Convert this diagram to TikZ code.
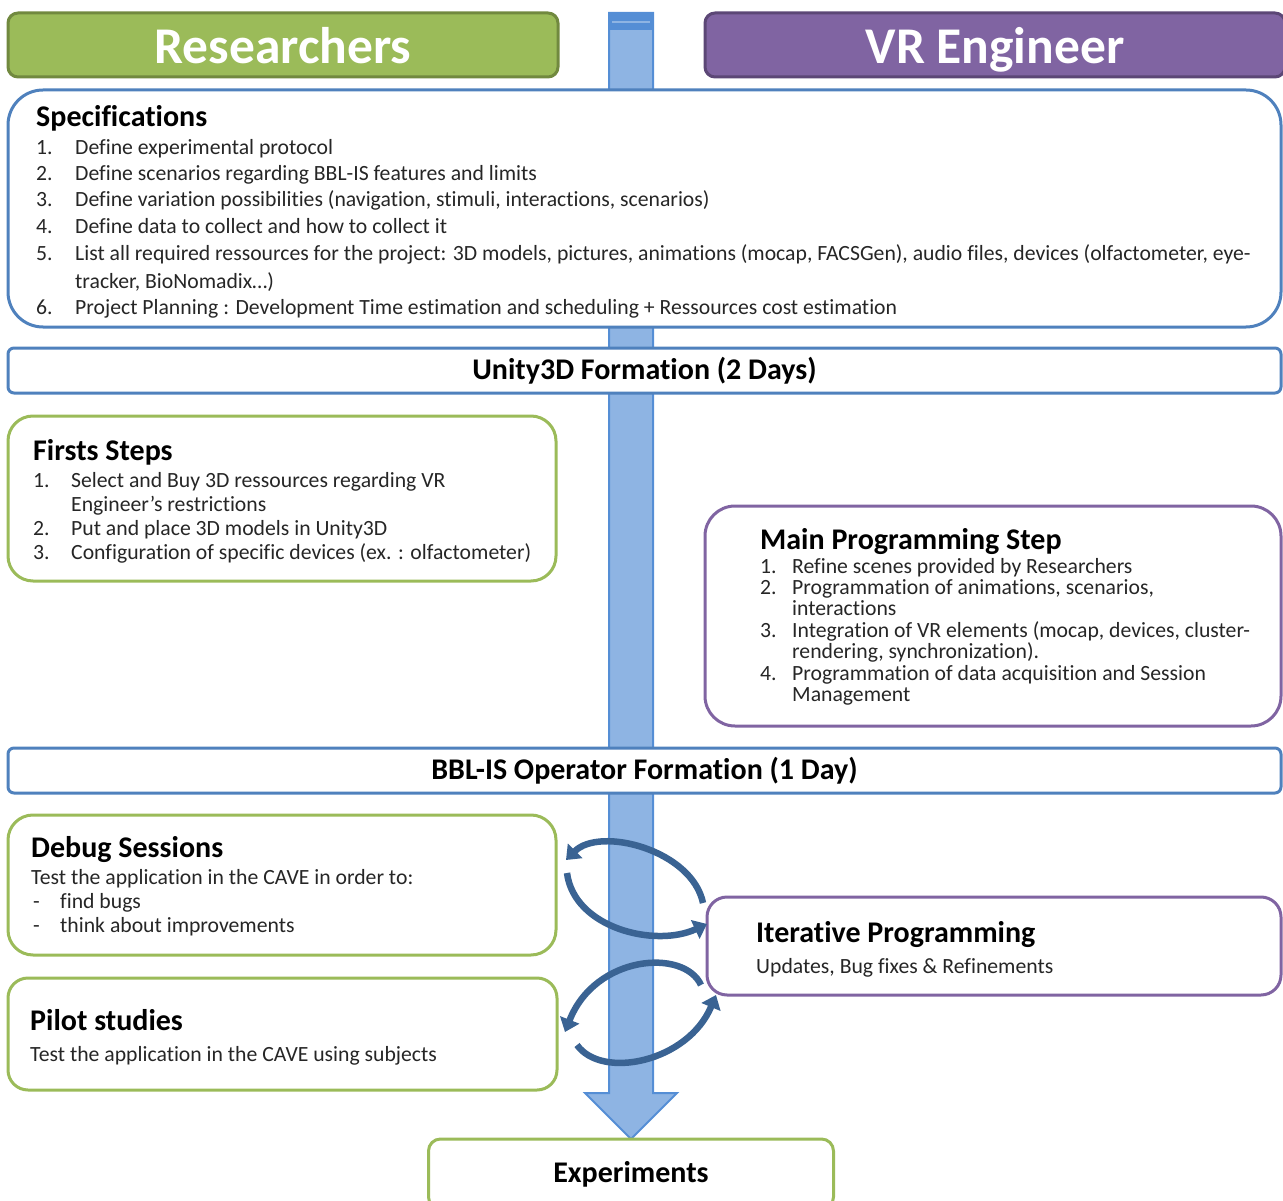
\documentclass[tikz,border=0pt]{standalone}
\usepackage{fontspec}
\setmainfont{Carlito}[Ligatures=NoCommon]
\usetikzlibrary{arrows.meta}
\definecolor{resgreen}{HTML}{9BBB59}
\definecolor{resdark}{HTML}{71893F}
\definecolor{vrpurple}{HTML}{8064A2}
\definecolor{vrdark}{HTML}{5C4776}
\definecolor{specblue}{HTML}{4F81BD}
\definecolor{flowfill}{HTML}{8EB4E3}
\definecolor{flowline}{HTML}{558ED5}
\definecolor{loopblue}{HTML}{3A6393}
\definecolor{txtgray}{HTML}{262626}
\tikzset{
  header/.style={draw, line width=3pt, rounded corners=10pt, anchor=north west, inner sep=0pt, outer sep=0pt,
    text=white, font=\fontsize{51.5}{51.5}\selectfont\bfseries, text depth=0pt},
  bluebox/.style={draw=specblue, fill=white, line width=3pt, anchor=north west, inner sep=0pt, outer sep=0pt},
  greenbox/.style={bluebox, draw=resgreen},
  purplebox/.style={bluebox, draw=vrpurple},
  barbox/.style={bluebox, rounded corners=6pt, minimum width=1273pt, minimum height=45pt,
    font=\fontsize{30}{30}\selectfont\bfseries},
  boxtitle/.style={anchor=base west, inner sep=0pt, font=\fontsize{30}{30}\selectfont\bfseries},
  boxtext/.style={anchor=base west, inner sep=0pt, text=txtgray, font=\fontsize{21.7}{21.7}\selectfont},
  looparrow/.style={draw=loopblue, line width=6.5pt, -{Triangle[width=20pt,length=13pt]}}
}

\begin{document}
\begin{tikzpicture}[x=1pt,y=-1pt]
\useasboundingbox (0,0) rectangle (1283,1201);

% big flow arrow behind the boxes
\coordinate (tip) at (631,1139);
\draw[draw=flowline, fill=flowfill, line width=2pt, line join=miter]
  (609,13) -- (653,13) -- (653,1093) -- (677,1093) -- (tip) -- (585,1093) -- (609,1093) -- cycle;
\fill[flowline] (609,13) rectangle (653,30);
\draw[flowfill, line width=1.5pt] (612,22) -- (650,22);

% headers
\node[header, draw=resdark, fill=resgreen, minimum width=550pt, minimum height=64pt] (res) at (8,13) {Researchers};
\node[header, draw=vrdark, fill=vrpurple, minimum width=580pt, minimum height=64pt] (vr) at (705,13) {VR Engineer};

% specifications
\node[bluebox, rounded corners=35pt, minimum width=1273pt, minimum height=237pt] (spec) at (8,90) {};
\node[boxtitle] (spect) at (36,127) {Specifications};
\foreach \yy/\lbl/\txt [count=\i] in {
  155/1./{Define experimental protocol},
  181/2./{Define scenarios regarding BBL-IS features and limits},
  207/3./{Define variation possibilities (navigation, stimuli, interactions, scenarios)},
  234/4./{Define data to collect and how to collect it},
  261/5./{List all required ressources for the project: 3D models, pictures, animations (mocap, FACSGen), audio files, devices (olfactometer, eye-},
  288/{}/{tracker, BioNomadix…)},
  314/6./{Project Planning : Development Time estimation and scheduling + Ressources cost estimation}}
{
  \node[boxtext] (spn\i) at (36,\yy) {\lbl};
  \node[boxtext] (sp\i) at (75,\yy) {\txt};
}

\node[barbox] (unity) at (8,348) {Unity3D Formation (2 Days)};

% firsts steps
\node[greenbox, rounded corners=25pt, minimum width=548pt, minimum height=165pt] (first) at (8,416) {};
\node[boxtitle] (firstt) at (33,460) {Firsts Steps};
\foreach \yy/\lbl/\txt [count=\i] in {
  487/1./{Select and Buy 3D ressources regarding VR},
  511/{}/{Engineer’s restrictions},
  535/2./{Put and place 3D models in Unity3D},
  559/3./{Configuration of specific devices (ex. : olfactometer)}}
{
  \node[boxtext] (fsn\i) at (33,\yy) {\lbl};
  \node[boxtext] (fs\i) at (71,\yy) {\txt};
}

% main programming step
\node[purplebox, rounded corners=30pt, minimum width=576pt, minimum height=220pt] (main) at (705,506) {};
\node[boxtitle] (maint) at (760,549) {Main Programming Step};
\foreach \yy/\lbl/\txt [count=\i] in {
  573/1./{Refine scenes provided by Researchers},
  594/2./{Programmation of animations, scenarios,},
  615/{}/{interactions},
  637/3./{Integration of VR elements (mocap, devices, cluster-},
  658/{}/{rendering, synchronization).},
  680/4./{Programmation of data acquisition and Session},
  701/{}/{Management}}
{
  \node[boxtext] (mpn\i) at (760,\yy) {\lbl};
  \node[boxtext] (mp\i) at (792,\yy) {\txt};
}

\node[barbox] (oper) at (8,748) {BBL-IS Operator Formation (1 Day)};

% debug sessions
\node[greenbox, rounded corners=25pt, minimum width=548pt, minimum height=140pt] (debug) at (8,815) {};
\node[boxtitle] (debugt) at (31,857) {Debug Sessions};
\node[boxtext] (debug1) at (31,884) {Test the application in the CAVE in order to:};
\node[boxtext] (dbd1) at (33,908) {-};
\node[boxtext] (debug2) at (60,908) {find bugs};
\node[boxtext] (dbd2) at (33,932) {-};
\node[boxtext] (debug3) at (60,932) {think about improvements};

% iterative programming
\node[purplebox, rounded corners=20pt, minimum width=574pt, minimum height=98pt] (iter) at (707,897) {};
\node[boxtitle] (itert) at (756,942) {Iterative Programming};
\node[boxtext] (iter1) at (756,973) {Updates, Bug fixes \& Refinements};

% pilot studies
\node[greenbox, rounded corners=20pt, minimum width=549pt, minimum height=112pt] (pilot) at (8,978) {};
\node[boxtitle] (pilott) at (30,1030) {Pilot studies};
\node[boxtext] (pilot1) at (30,1061) {Test the application in the CAVE using subjects};

% experiments
\node[greenbox, anchor=north, rounded corners=12pt, minimum width=405pt, minimum height=70pt,
  font=\fontsize{30}{30}\selectfont\bfseries] (exp) at (tip) {Experiments};

% loops between debug/pilot and iterative programming
\coordinate (up1) at (703,903);
\coordinate (up2) at (566,860);
\coordinate (up3) at (567,873);
\coordinate (up4) at (707,924);
\coordinate (lo1) at (701,985);
\coordinate (lo2) at (565,1032);
\coordinate (lo3) at (577,1045);
\coordinate (lo4) at (716,995);
\draw[looparrow] (up1) .. controls (692,850) and (600,826) .. (up2);
\draw[looparrow] (up3) .. controls (574,928) and (655,948) .. (up4);
\draw[looparrow] (lo1) .. controls (684,948) and (595,955) .. (lo2);
\draw[looparrow] (lo3) .. controls (602,1080) and (688,1062) .. (lo4);
\end{tikzpicture}
\end{document}
